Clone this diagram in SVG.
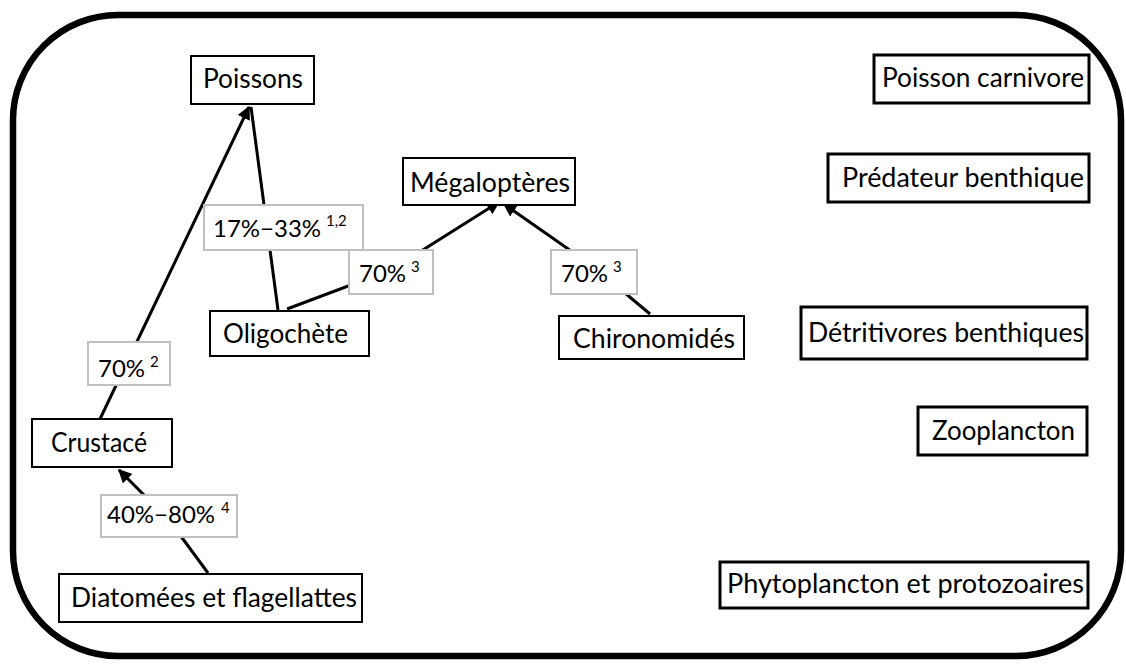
<svg xmlns="http://www.w3.org/2000/svg" width="1126" height="665" viewBox="0 0 1126 665">
<defs>
<marker id="arr" viewBox="0 0 10 10" refX="9" refY="5" markerWidth="4.5" markerHeight="4.5" orient="auto" markerUnits="strokeWidth">
<path d="M0,0 L10,5 L0,10 z" fill="#000"/>
</marker>
<style>
.frame{fill:#fff;stroke:#000;stroke-width:6.5}
.node{fill:#fff;stroke:#000;stroke-width:2}
.node3{fill:#fff;stroke:#000;stroke-width:3}
.lab{fill:#fff;stroke:#c0c0c0;stroke-width:2}
.t{font-family:Lato,"Liberation Sans",sans-serif;font-size:26px;fill:#000}
.l{font-family:Lato,"Liberation Sans",sans-serif;font-size:24px;fill:#000}
.s{font-family:Lato,"Liberation Sans",sans-serif;font-size:15px;fill:#000}
.c{fill:none;stroke:#000;stroke-width:3}
</style>
</defs>
<rect class="frame" x="13" y="15" width="1108" height="641" rx="105" ry="105"/>
<g id="connectors">
<line class="c" x1="100" y1="419" x2="249" y2="107" marker-end="url(#arr)"/>
<line class="c" x1="278" y1="310" x2="251" y2="107"/>
<polyline class="c" points="287,309 391,270 499,202" marker-end="url(#arr)"/>
<polyline class="c" points="650,314 594,267 504,204" marker-end="url(#arr)"/>
<polyline class="c" points="208,573 169,520 119,470" marker-end="url(#arr)"/>
</g>
<g id="poissons"><rect class="node" x="191" y="56" width="123" height="48"/><text class="t" x="203" y="88" textLength="100" lengthAdjust="spacingAndGlyphs">Poissons</text></g>
<g id="megalopteres"><rect class="node" x="403" y="158" width="172" height="47"/><text class="t" x="410" y="192" textLength="160" lengthAdjust="spacingAndGlyphs">Mégaloptères</text></g>
<g id="oligochete"><rect class="node" x="210" y="311" width="159" height="45"/><text class="t" x="223" y="343" textLength="125" lengthAdjust="spacingAndGlyphs">Oligochète</text></g>
<g id="chironomides"><rect class="node" x="559" y="316" width="185" height="43"/><text class="t" x="573" y="348" textLength="162" lengthAdjust="spacingAndGlyphs">Chironomidés</text></g>
<g id="crustace"><rect class="node" x="32" y="419" width="140" height="48"/><text class="t" x="51" y="452" textLength="96" lengthAdjust="spacingAndGlyphs">Crustacé</text></g>
<g id="diatomees"><rect class="node" x="59" y="574" width="303" height="48"/><text class="t" x="71" y="607" textLength="286" lengthAdjust="spacingAndGlyphs">Diatomées et flagellattes</text></g>
<g id="poisson-carnivore"><rect class="node3" x="874" y="55" width="215" height="48"/><text class="t" x="882" y="87" textLength="202" lengthAdjust="spacingAndGlyphs">Poisson carnivore</text></g>
<g id="predateur-benthique"><rect class="node3" x="828" y="154" width="261" height="48"/><text class="t" x="842" y="187" textLength="242" lengthAdjust="spacingAndGlyphs">Prédateur benthique</text></g>
<g id="detritivores-benthiques"><rect class="node3" x="801" y="307" width="286" height="52"/><text class="t" x="808" y="342" textLength="276" lengthAdjust="spacingAndGlyphs">Détritivores benthiques</text></g>
<g id="zooplancton"><rect class="node3" x="918" y="407" width="169" height="48"/><text class="t" x="932" y="440" textLength="143" lengthAdjust="spacingAndGlyphs">Zooplancton</text></g>
<g id="phytoplancton"><rect class="node3" x="720" y="562" width="368" height="46"/><text class="t" x="727" y="593" textLength="357" lengthAdjust="spacingAndGlyphs">Phytoplancton et protozoaires</text></g>
<g id="label-17-33"><rect class="lab" x="204" y="205" width="159" height="45"/><text class="l" x="213" y="237">17%−33%</text><text class="s" x="326" y="226">1,2</text></g>
<g id="label-70-left"><rect class="lab" x="349" y="250" width="84" height="44"/><text class="l" x="359" y="282">70%</text><text class="s" x="411" y="272">3</text></g>
<g id="label-70-right"><rect class="lab" x="551" y="250" width="86" height="44"/><text class="l" x="561" y="282">70%</text><text class="s" x="613" y="272">3</text></g>
<g id="label-70-crust"><rect class="lab" x="88" y="342" width="82" height="43"/><text class="l" x="98" y="377">70%</text><text class="s" x="150" y="367">2</text></g>
<g id="label-40-80"><rect class="lab" x="101" y="495" width="136" height="42"/><text class="l" x="107" y="523">40%−80%</text><text class="s" x="221" y="513">4</text></g>
</svg>
